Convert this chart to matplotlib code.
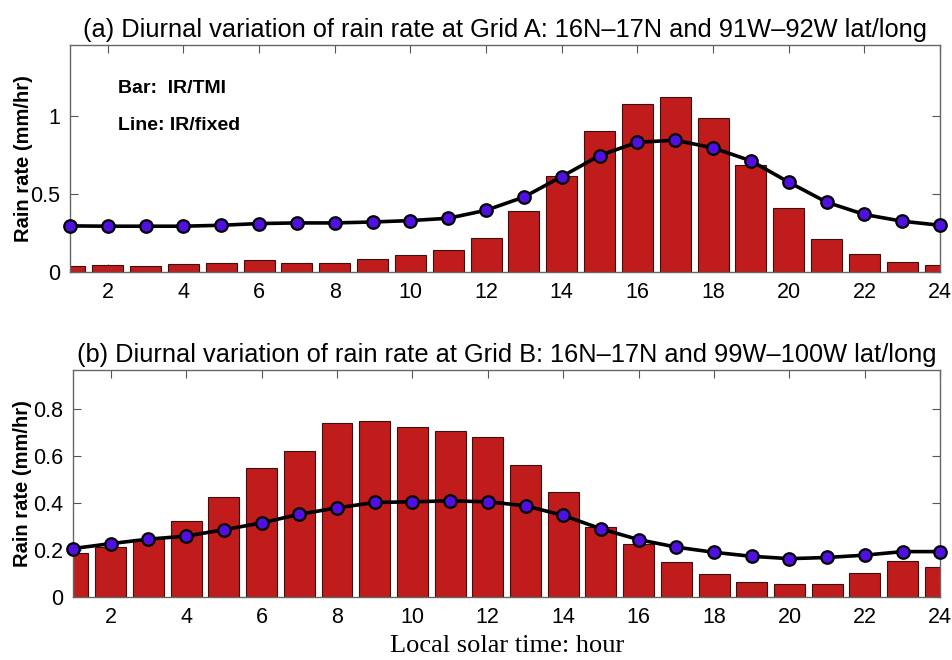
import numpy as np
import matplotlib
matplotlib.use("Agg")
from matplotlib import pyplot as plt

plt.rcParams['font.family'] = ['Liberation Sans', 'DejaVu Sans']

hours = np.arange(1, 25)
xticks = np.arange(2, 25, 2)

# Grid A: 16N-17N, 91W-92W
bar_a = [0.036, 0.043, 0.040, 0.049, 0.060, 0.077, 0.060, 0.060, 0.085, 0.109, 0.139, 0.220,
         0.390, 0.613, 0.906, 1.077, 1.122, 0.987, 0.688, 0.412, 0.210, 0.113, 0.066, 0.047]
line_a = [0.295, 0.293, 0.293, 0.293, 0.299, 0.310, 0.314, 0.314, 0.320, 0.329, 0.344, 0.395,
          0.480, 0.611, 0.746, 0.831, 0.844, 0.795, 0.712, 0.575, 0.447, 0.368, 0.325, 0.299]

# Grid B: 16N-17N, 99W-100W
bar_b = [0.189, 0.212, 0.246, 0.324, 0.426, 0.550, 0.620, 0.742, 0.749, 0.725, 0.706, 0.681,
         0.560, 0.448, 0.298, 0.226, 0.149, 0.099, 0.063, 0.054, 0.057, 0.102, 0.153, 0.129]
line_b = [0.206, 0.227, 0.246, 0.259, 0.286, 0.315, 0.352, 0.379, 0.402, 0.405, 0.409, 0.405,
          0.388, 0.347, 0.290, 0.244, 0.212, 0.190, 0.173, 0.163, 0.168, 0.178, 0.193, 0.193]

titles = ["(a) Diurnal variation of rain rate at Grid A: 16N\u201317N and 91W\u201392W lat/long",
          "(b) Diurnal variation of rain rate at Grid B: 16N\u201317N and 99W\u2013100W lat/long"]

fig = plt.figure(figsize=(9.52, 6.6), dpi=100)
ax_a = fig.add_axes([0.0735, 0.588, 0.914, 0.344])
ax_b = fig.add_axes([0.0767, 0.0955, 0.911, 0.344])


def draw_panel(ax, bars, line, title, ylim, yticks, yticklabels, label_x):
    ax.bar(hours, bars, width=0.82, color="#C01C1C", edgecolor="#3a1010", linewidth=0.8, zorder=2)
    ax.plot(hours, line, color="black", linewidth=2.6, marker='o', markersize=9,
            markerfacecolor="#5010E0", markeredgecolor="black", markeredgewidth=1.6,
            zorder=3, clip_on=False)
    ax.set_xlim(1, 24)
    ax.set_ylim(*ylim)
    ax.set_xticks(xticks)
    ax.set_yticks(yticks)
    ax.set_yticklabels(yticklabels)
    ax.tick_params(direction='in', top=True, right=True, length=6, width=0.8,
                   labelsize=15.5, color="#555555", pad=7)
    for sp in ax.spines.values():
        sp.set_color("#666666")
        sp.set_linewidth(1.0)
    ax.set_ylabel("Rain rate (mm/hr)", fontsize=14.5, fontweight='bold')
    ax.yaxis.set_label_coords(label_x, 0.5)
    ax.set_title(title, fontsize=18.3, pad=6)


draw_panel(ax_a, bar_a, line_a, titles[0], (0, 1.455), [0, 0.5, 1], ["0", "0.5", "1"], -0.043)
draw_panel(ax_b, bar_b, line_b, titles[1], (0, 0.966), [0, 0.2, 0.4, 0.6, 0.8],
           ["0", "0.2", "0.4", "0.6", "0.8"], -0.047)

ax_a.text(0.055, 0.81, "Bar:  IR/TMI", transform=ax_a.transAxes, fontsize=14, fontweight='bold',
          va='center')
ax_a.text(0.055, 0.645, "Line: IR/fixed", transform=ax_a.transAxes, fontsize=14, fontweight='bold',
          va='center')

ax_b.set_xlabel("Local solar time: hour", fontsize=19, family=['Liberation Serif', 'DejaVu Serif'],
                labelpad=5)

plt.savefig("out.png", dpi=100)
